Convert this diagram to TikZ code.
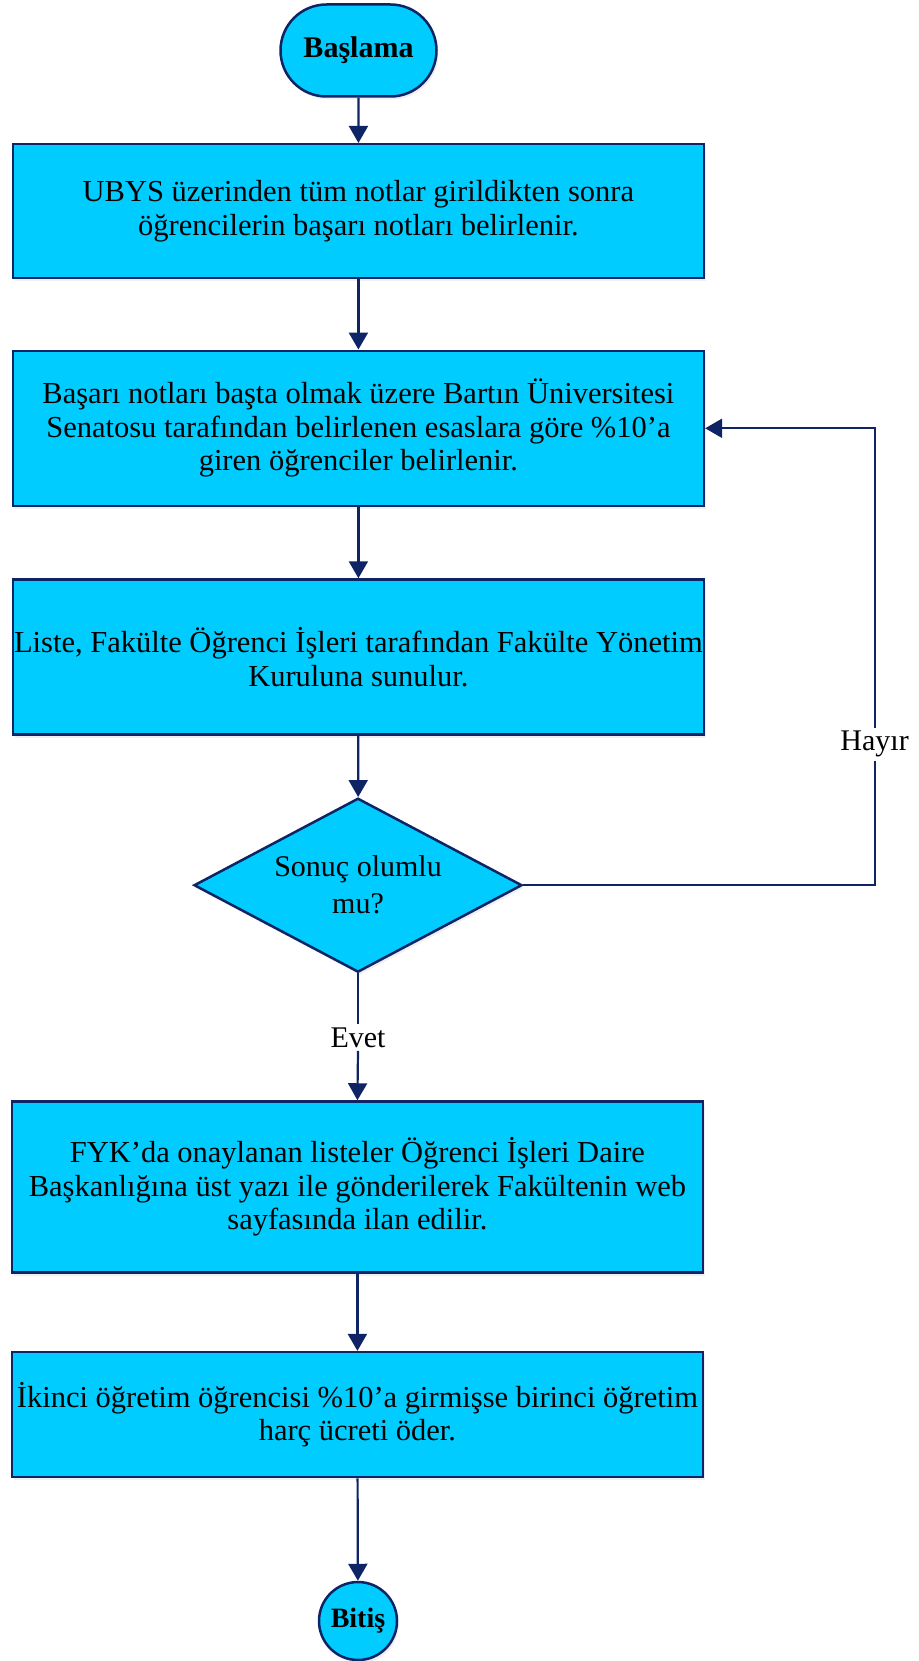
\documentclass[tikz,border=0pt]{standalone}
\usepackage{fontspec}
\setmainfont{Liberation Serif}
\usetikzlibrary{shapes.geometric,arrows.meta,shadows}
\definecolor{boxfill}{RGB}{0,204,255}
\definecolor{boxline}{RGB}{14,36,100}
\tikzset{
  base/.style={draw=boxline, fill=boxfill, line width=2.5pt, align=center,
    font=\fontsize{30.5}{33.5}\selectfont,
    drop shadow={opacity=0.12, shadow xshift=2pt, shadow yshift=-3pt}},
  procbox/.style={base, rectangle, minimum width=691pt, inner sep=0pt},
  termbox/.style={base, rectangle, rounded corners=46pt, minimum width=156pt, minimum height=92pt,
    font=\fontsize{30}{34}\selectfont\bfseries},
  endcirc/.style={base, circle, minimum size=78pt, inner sep=0pt, font=\fontsize{28}{32}\selectfont\bfseries},
  decbox/.style={base, diamond, minimum width=328pt, minimum height=174pt, inner sep=0pt, aspect=1.885,
    font=\fontsize{30}{37}\selectfont},
  lbl/.style={font=\fontsize{30}{34}\selectfont, inner sep=3pt},
  conn/.style={draw=boxline, line width=2.2pt},
  arr/.style={conn, -{Triangle[width=19pt,length=17pt]}}
}
\begin{document}
\begin{tikzpicture}[x=1pt,y=-1pt]
\useasboundingbox (0,0) rectangle (918,1661);
\node[termbox] (start) at (358.5,50.5) {Başlama};
\node[procbox, minimum height=134pt] (b1) at (358.4,211.2) {UBYS üzerinden tüm notlar girildikten sonra\\öğrencilerin başarı notları belirlenir.};
\node[procbox, minimum height=155pt] (b2) at (358.4,428.3) {Başarı notları başta olmak üzere Bartın Üniversitesi\\Senatosu tarafından belirlenen esaslara göre \%10’a\\giren öğrenciler belirlenir.};
\node[procbox, minimum height=155pt] (b3) at (358.4,657) {Liste, Fakülte Öğrenci İşleri tarafından Fakülte Yönetim\\Kuruluna sunulur.};
\node[decbox] (d) at (358,885.2) {Sonuç olumlu\\mu?};
\node[lbl] (hayir) at (874.6,744.3) {Hayır};
\node[lbl] (evet) at (358,1037.6) {Evet};
\node[procbox, minimum height=171pt] (b4) at (357.4,1187) {FYK’da onaylanan listeler Öğrenci İşleri Daire\\Başkanlığına üst yazı ile gönderilerek Fakültenin web\\sayfasında ilan edilir.};
\node[procbox, minimum height=125pt] (b5) at (357.4,1414.6) {İkinci öğretim öğrencisi \%10’a girmişse birinci öğretim\\harç ücreti öder.};
\node[endcirc] (end) at (358,1621) {Bitiş};
\draw[arr] (start) -- (b1);
\draw[arr] (b1) -- (b2);
\draw[arr] (b2) -- (b3);
\draw[arr] (b3) -- (d);
\draw[conn] (d.south) -- (evet.north);
\draw[arr] (evet.south) -- (b4.north);
\draw[arr] (b4) -- (b5);
\draw[arr] (b5) -- (end);
\draw[conn] (d.east) -| (hayir.south);
\draw[arr] (hayir.north) |- (b2.east);
\end{tikzpicture}
\end{document}
